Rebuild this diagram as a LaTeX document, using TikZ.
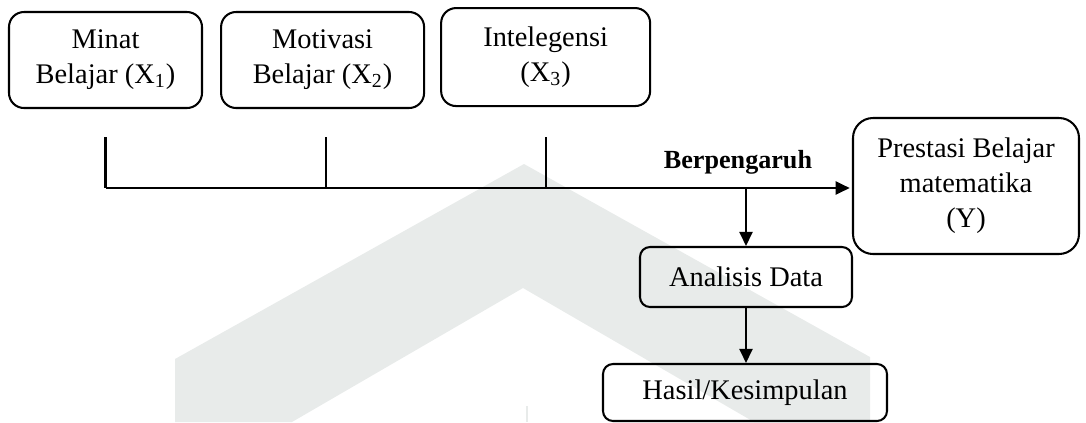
\documentclass[tikz,border=0pt]{standalone}
\usepackage{fontspec}
\setmainfont{Liberation Serif}
\usetikzlibrary{arrows.meta,positioning}
\definecolor{wm}{RGB}{232,235,234}
\newcommand{\pu}{0.44pt}

\begin{document}
\begin{tikzpicture}[x=\pu, y=-\pu, line width=0.9pt,
        >={Triangle[length=14*\pu, width=13*\pu]},
        varbox/.style={draw, align=center, inner sep=0pt, font=\fontsize{12.5}{15.4}\selectfont}]
        \useasboundingbox (0,0) rectangle (1086,422);
        % watermark in the background
        \fill[wm] (175,422) -- (175,359) -- (524,164) -- (870,357) -- (870,422) -- (754,422) -- (523,288) -- (292,422) -- cycle;
        \fill[wm] (526,406) rectangle (528,422);

        \node[varbox, rounded corners=6.6pt, minimum width=193*\pu, minimum height=96*\pu] (minat) at (105.5,60) {Minat\\Belajar (X\textsubscript{1})};
        \node[varbox, rounded corners=6.6pt, minimum width=203*\pu, minimum height=96*\pu, right=7.5pt of minat] (motivasi) {Motivasi\\Belajar (X\textsubscript{2})};
        \node[varbox, rounded corners=6.6pt, minimum width=209*\pu, minimum height=98*\pu, right=6.6pt of motivasi, yshift=1.3pt] (intelegensi) {Intelegensi\\(X\textsubscript{3})};
        \node[varbox, rounded corners=8.8pt, minimum width=226*\pu, minimum height=136*\pu] (prestasi) at (966,186) {Prestasi Belajar\\matematika\\(Y)};
        \node[varbox, rounded corners=4.4pt, minimum width=212*\pu, minimum height=60*\pu] (analisis) at (746,277) {Analisis Data};
        \node[varbox, rounded corners=4.4pt, minimum width=284*\pu, minimum height=57*\pu] (hasil) at (745,392.5) {Hasil/Kesimpulan};
        \node[font=\fontsize{11.5}{13}\selectfont\bfseries, anchor=base, inner sep=0pt] (berpengaruh) at (738,168) {Berpengaruh};

        \coordinate (bus) at (106,188);
        \draw (minat.south) ++(0,28) -- (minat.south |- bus);
        \draw ([xshift=1.5pt]motivasi.south) ++(0,28) -- ([xshift=1.5pt]motivasi.south |- bus);
        \draw (intelegensi.south) ++(0,30) -- (intelegensi.south |- bus);
        \draw[->, shorten >=1pt] (bus) -- (bus -| prestasi.west);
        \draw[->] (analisis.north |- bus) -- (analisis.north);
        \draw[->] (analisis.south) -- (analisis.south |- hasil.north);
    \end{tikzpicture}
\end{document}
